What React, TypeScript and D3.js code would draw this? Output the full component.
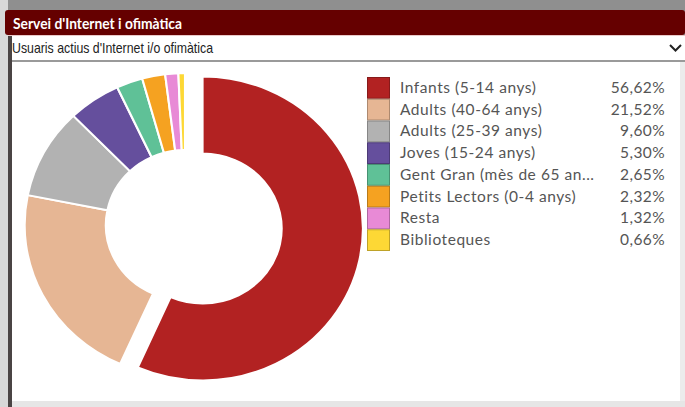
import { useEffect, useRef } from "react";
import * as d3 from "d3";

const title = "Servei d'Internet i ofimàtica";
const selected = "Usuaris actius d'Internet i/o ofimàtica";

const labels = [
  "Infants (5-14 anys)",
  "Adults (40-64 anys)",
  "Adults (25-39 anys)",
  "Joves (15-24 anys)",
  "Gent Gran (mès de 65 an...",
  "Petits Lectors (0-4 anys)",
  "Resta",
  "Biblioteques",
];
const values = [56.62, 21.52, 9.6, 5.3, 2.65, 2.32, 1.32, 0.66];
const colors = [
  "#b22222",
  "#e6b694",
  "#b2b2b2",
  "#654f9d",
  "#5fc197",
  "#f5a221",
  "#e88ad6",
  "#fdd835",
];

const fmt = (v: number) => v.toFixed(2).replace(".", ",") + "%";

const App = () => {
  const ref = useRef<SVGSVGElement>(null);

  useEffect(() => {
    const width = 685;
    const height = 407;
    const svg = d3.select(ref.current);
    svg.selectAll("*").remove();
    svg.attr("width", width).attr("height", height);

    // frame
    svg.append("rect").attr("x", 0).attr("y", 0).attr("width", width).attr("height", height).attr("fill", "#8f8f8f");
    svg.append("rect").attr("x", 0).attr("y", 0).attr("width", 8).attr("height", height).attr("fill", "#d8d8d8");
    svg.append("rect").attr("x", 8).attr("y", 36).attr("width", 4).attr("height", height).attr("fill", "#4a4444");
    svg.append("rect").attr("x", 12).attr("y", 62).attr("width", width - 12).attr("height", height - 62).attr("fill", "#ffffff");
    svg.append("rect").attr("x", width - 5).attr("y", 62).attr("width", 5).attr("height", height - 62).attr("fill", "#ececec");
    svg.append("rect").attr("x", 12).attr("y", 401).attr("width", width - 12).attr("height", 6).attr("fill", "#e6e6e6");

    // header
    svg.append("rect").attr("x", 5).attr("y", 10).attr("width", width - 5).attr("height", 25).attr("rx", 3).attr("fill", "#650000");
    svg
      .append("text")
      .attr("x", 13)
      .attr("y", 29)
      .attr("fill", "#ffffff")
      .attr("textLength", 169)
      .attr("lengthAdjust", "spacingAndGlyphs")
      .style("font-family", "Lato, sans-serif")
      .style("font-weight", "bold")
      .style("font-size", "16px")
      .text(title);

    // dropdown
    svg.append("rect").attr("x", 8).attr("y", 35).attr("width", width - 8).attr("height", 1).attr("fill", "#e9c9c9");
    svg.append("rect").attr("x", 12).attr("y", 36).attr("width", width - 12).attr("height", 24).attr("fill", "#ffffff");
    svg.append("rect").attr("x", 12).attr("y", 60).attr("width", width - 12).attr("height", 2).attr("fill", "#9a9a9a");
    svg
      .append("text")
      .attr("x", 12)
      .attr("y", 53)
      .attr("fill", "#222")
      .attr("textLength", 201)
      .attr("lengthAdjust", "spacingAndGlyphs")
      .style("font-family", "'Liberation Sans', Arial, sans-serif")
      .style("font-size", "15px")
      .text(selected);
    svg
      .append("path")
      .attr("d", "M670,45 L675.5,50.5 L681,45")
      .attr("fill", "none")
      .attr("stroke", "#222")
      .attr("stroke-width", 2);

    // donut
    const outerR = 152;
    const innerR = 75;
    const explode = 17;
    const pie = d3
      .pie<number>()
      .sort(null)
      .value((d) => d)
      .startAngle(0)
      .endAngle(2 * Math.PI);
    const arc = d3.arc<d3.PieArcDatum<number>>().innerRadius(innerR).outerRadius(outerR);
    const arcs = pie(values);

    const g = svg.append("g").attr("transform", "translate(185,225) scale(1.055,1)");
    g.selectAll("path")
      .data(arcs)
      .join("path")
      .attr("d", arc)
      .attr("fill", (_, i) => colors[i])
      .attr("stroke", "#ffffff")
      .attr("stroke-width", 2)
      .attr("stroke-linejoin", "round")
      .attr("transform", (d, i) => {
        if (i !== 0) return null;
        const mid = (d.startAngle + d.endAngle) / 2;
        return `translate(${Math.sin(mid) * explode},${-Math.cos(mid) * explode})`;
      });

    // legend
    const y = d3.scaleBand<string>().domain(labels).range([77, 251]).paddingInner(0);
    const leg = svg.append("g");
    const rows = leg
      .selectAll("g")
      .data(labels)
      .join("g")
      .attr("transform", (d) => `translate(0,${y(d)})`);
    rows
      .append("rect")
      .attr("x", 367.5)
      .attr("y", 0.5)
      .attr("width", 22)
      .attr("height", y.bandwidth() - 1)
      .attr("fill", (_, i) => colors[i])
      .attr("stroke", (_, i) => d3.color(colors[i])!.darker(0.8).formatHex())
      .attr("stroke-width", 1);
    rows
      .append("text")
      .attr("x", 400)
      .attr("y", y.bandwidth() / 2 + 5)
      .attr("fill", "#555")
      .style("font-family", "Lato, sans-serif")
      .style("font-size", "15.5px")
      .style("letter-spacing", "0.55px")
      .text((d) => d);
    rows
      .append("text")
      .attr("x", 665)
      .attr("y", y.bandwidth() / 2 + 5)
      .attr("text-anchor", "end")
      .attr("fill", "#555")
      .style("font-family", "Lato, sans-serif")
      .style("font-size", "15.5px")
      .style("letter-spacing", "0.4px")
      .text((_, i) => fmt(values[i]));
  }, []);

  return <svg ref={ref} style={{ position: "absolute", left: 0, top: 0 }} />;
};

export default App;
